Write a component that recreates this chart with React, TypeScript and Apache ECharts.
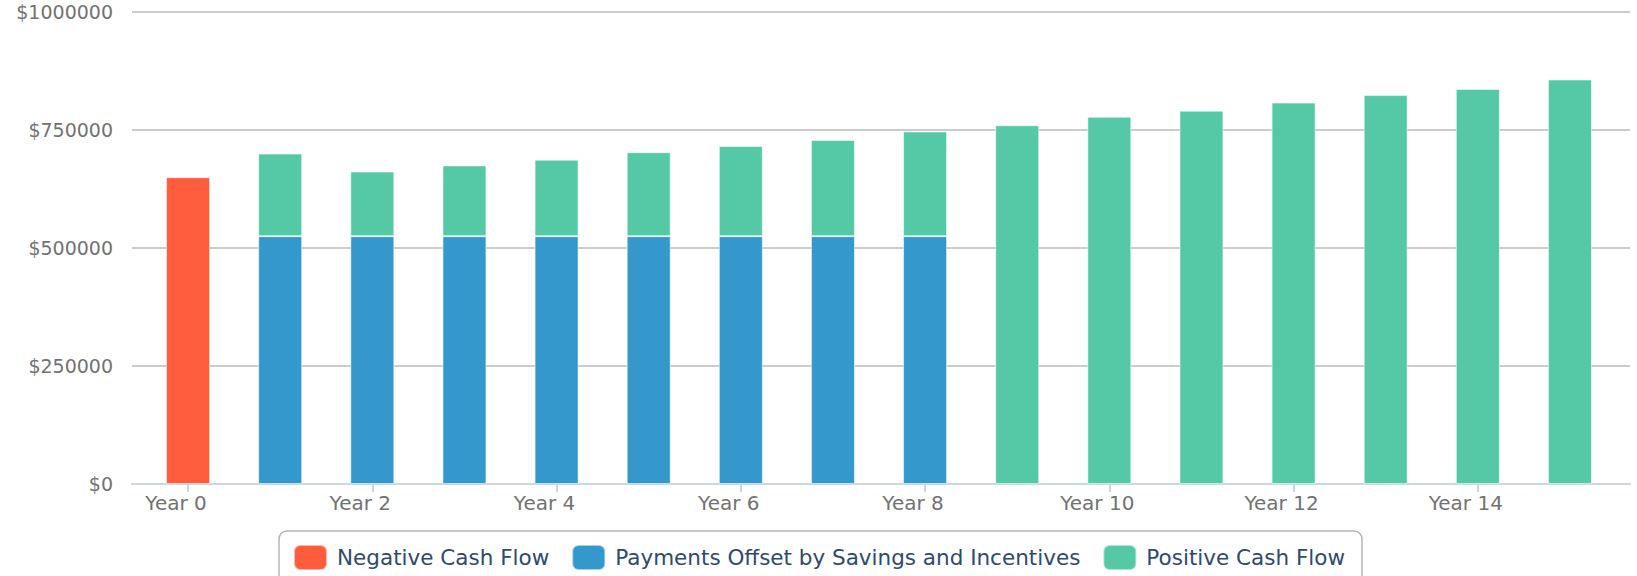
import React, { useEffect, useRef } from "react";
import * as echarts from "echarts";

const categories = [
  "Year 0", "Year 1", "Year 2", "Year 3", "Year 4", "Year 5", "Year 6", "Year 7",
  "Year 8", "Year 9", "Year 10", "Year 11", "Year 12", "Year 13", "Year 14", "Year 15",
];
const negativeCashFlow = [650000, null, null, null, null, null, null, null, null, null, null, null, null, null, null, null];
const paymentsOffset = [null, 525000, 525000, 525000, 525000, 525000, 525000, 525000, 525000, null, null, null, null, null, null, null];
const positiveCashFlow = [null, 175000, 137000, 150000, 162000, 178000, 191000, 204000, 222000, 760000, 778000, 791000, 808000, 824000, 837000, 857000];
const yTicks = [0, 250000, 500000, 750000, 1000000];

const FONT = "DejaVu Sans";

export default function App() {
  const ref = useRef<HTMLDivElement>(null);
  useEffect(() => {
    if (!ref.current) return;
    const chart = echarts.init(ref.current, null, { renderer: "svg" });
    const yMin = yTicks[0];
    const yMax = yTicks[yTicks.length - 1];
    const yInterval = yTicks[1] - yTicks[0];
    const barStyle = (color: string) => ({
      color,
      borderColor: "rgba(255,255,255,0.55)",
      borderWidth: 1,
    });
    chart.setOption({
      animation: false,
      textStyle: { fontFamily: FONT },
      grid: [
        { left: 132, right: 7, top: 12, bottom: 92 },
        { left: 142, right: 21, top: 12, bottom: 92 },
      ],
      xAxis: [
        {
          gridIndex: 0,
          type: "category",
          data: categories,
          axisLine: { show: true, lineStyle: { color: "#c7d8e8", width: 2 } },
          axisTick: { show: false },
          axisLabel: { show: false },
          splitLine: { show: false },
        },
        {
          gridIndex: 1,
          type: "category",
          data: categories,
          axisLine: { show: false },
          axisTick: {
            show: true,
            alignWithLabel: true,
            interval: 1,
            length: 8,
            lineStyle: { color: "#c7d8e8", width: 2 },
          },
          axisLabel: {
            interval: 1,
            fontSize: 20,
            fontFamily: FONT,
            color: "#727272",
            margin: 9,
            padding: [0, 24, 0, 0],
          },
        },
      ],
      yAxis: [
        {
          gridIndex: 0,
          type: "value",
          min: yMin,
          max: yMax,
          interval: yInterval,
          axisLine: { show: false },
          axisTick: { show: false },
          axisLabel: {
            fontSize: 19,
            fontFamily: FONT,
            color: "#727272",
            margin: 19,
            formatter: (v: number) => "$" + v,
          },
          splitLine: { show: true, lineStyle: { color: "#cccccc", width: 2 } },
        },
        {
          gridIndex: 1,
          type: "value",
          min: yMin,
          max: yMax,
          interval: yInterval,
          show: false,
          splitLine: { show: false },
        },
      ],
      legend: {
        left: 279,
        top: 531,
        orient: "horizontal",
        icon: "roundRect",
        itemWidth: 33,
        itemHeight: 25,
        itemGap: 22,
        borderColor: "#b5b5b5",
        borderWidth: 1.5,
        borderRadius: 8,
        padding: [13, 17, 13, 14],
        textStyle: {
          fontFamily: FONT,
          fontSize: 21.5,
          color: "#2f4a6a",
          padding: [0, 0, 0, 5],
        },
        data: ["Negative Cash Flow", "Payments Offset by Savings and Incentives", "Positive Cash Flow"],
      },
      series: [
        {
          name: "Negative Cash Flow",
          type: "bar",
          xAxisIndex: 1,
          yAxisIndex: 1,
          stack: "total",
          barWidth: 44,
          data: negativeCashFlow,
          itemStyle: barStyle("#ff5d3d"),
        },
        {
          name: "Payments Offset by Savings and Incentives",
          type: "bar",
          xAxisIndex: 1,
          yAxisIndex: 1,
          stack: "total",
          barWidth: 44,
          data: paymentsOffset,
          itemStyle: barStyle("#3498cc"),
        },
        {
          name: "Positive Cash Flow",
          type: "bar",
          xAxisIndex: 1,
          yAxisIndex: 1,
          stack: "total",
          barWidth: 44,
          data: positiveCashFlow,
          itemStyle: barStyle("#55c9a6"),
        },
      ],
    });
    return () => chart.dispose();
  }, []);
  return (
    <div
      ref={ref}
      style={{ position: "absolute", left: 0, top: 0, width: 1637, height: 576, background: "#fff" }}
    />
  );
}
